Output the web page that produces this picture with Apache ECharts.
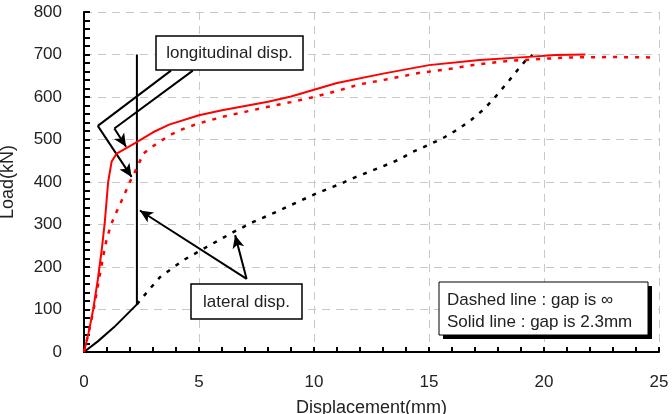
<!DOCTYPE html>
<html>
<head>
<meta charset="utf-8">
<script src="https://cdn.jsdelivr.net/npm/echarts@6/dist/echarts.min.js"></script>
<style>
  html, body { margin: 0; padding: 0; background: #fff; }
  #main { width: 672px; height: 414px; }
</style>
</head>
<body>
<div id="main"></div>
<script>
// load-displacement curves, values
// [displacement mm, load kN]
const longSolid = [
  [0, 0], [0.2, 45], [0.4, 100], [0.6, 170], [0.77, 240], [0.9, 303], [1.05, 400],
  [1.2, 448], [1.42, 467], [2.2, 491], [3, 517], [3.7, 535], [5, 557], [6, 569],
  [7, 579], [8, 589], [9, 601], [10, 617], [11, 633], [13, 655], [15, 675],
  [17.2, 687], [19.5, 695], [20.5, 699], [21.8, 700]
];
const longDashed = [
  [0, 0], [0.2, 45], [0.42, 100], [0.65, 170], [0.85, 230], [0.99, 267], [1.2, 303],
  [1.45, 334], [1.71, 365], [2.0, 401], [2.29, 432], [2.58, 467], [3.2, 492],
  [3.8, 512], [4.4, 527], [5, 538], [6, 553], [7, 565], [8, 577], [9, 588],
  [10, 600], [11, 614], [12, 630], [13.4, 644], [14.5, 656], [16, 667], [17, 676],
  [18.5, 685], [20, 690], [21.1, 693], [23, 694], [24.9, 693]
];
const latSolid = [
  [0, 0], [0.6, 25], [1.3, 58], [2.3, 112], [2.3, 700]
];
const latDashed = [
  [2.3, 112], [2.43, 121], [2.87, 149], [3.3, 176], [4.32, 216], [5.33, 247],
  [6.49, 282], [7.36, 306], [8.38, 330], [8.81, 341], [10.1, 373], [10.84, 389],
  [11.25, 398], [11.83, 412], [12.4, 424], [13.13, 440], [13.7, 453], [14.3, 471],
  [14.97, 487], [15.6, 503], [16.26, 524], [16.83, 546], [17.34, 569], [17.77, 593],
  [18.13, 616], [18.5, 640], [18.86, 664], [19.22, 687], [19.5, 699]
];

const xTicks = [0, 5, 10, 15, 20, 25];
const yTicks = [0, 100, 200, 300, 400, 500, 600, 700, 800];

// annotation arrows in data units, the last segment of each path gets the arrowhead
const arrowPaths = [
  [[3.78, 662], [0.6, 532], [2.07, 412]],
  [[4.73, 662], [1.32, 526], [1.83, 483]],
  [[7.07, 172], [2.43, 333]],
  [[7.07, 172], [6.57, 275]]
];

const font = 'Liberation Sans, Arial, sans-serif';
const txt = '#222';

const arrowLines = [];
arrowPaths.forEach(p => {
  for (let i = 0; i < p.length - 1; i++) {
    const last = i === p.length - 2;
    arrowLines.push([
      { coord: p[i], symbol: 'none' },
      { coord: p[i + 1], symbol: last ? 'arrow' : 'none' }
    ]);
  }
});

const myChart = echarts.init(document.getElementById('main'), null, { renderer: 'canvas' });

const option = {
  animation: false,
  backgroundColor: '#fff',
  grid: { left: 84, right: 13, top: 12, bottom: 62, containLabel: false, outerBoundsMode: 'none' },
  xAxis: {
    type: 'value',
    min: xTicks[0],
    max: xTicks[xTicks.length - 1],
    interval: 5,
    name: 'Displacement(mm)',
    nameLocation: 'middle',
    nameGap: 47,
    nameTextStyle: { fontFamily: font, fontSize: 18, color: txt },
    axisLine: { lineStyle: { color: '#000', width: 2 } },
    axisTick: { inside: true, length: 5, lineStyle: { color: '#000', width: 2 } },
    minorTick: { show: true, splitNumber: 5, length: 5, lineStyle: { color: '#000', width: 2 } },
    axisLabel: { margin: 22, fontFamily: font, fontSize: 17, color: txt },
    splitLine: { show: true, lineStyle: { color: '#c8c8c8', type: [8, 6], width: 1 } }
  },
  yAxis: {
    type: 'value',
    min: yTicks[0],
    max: yTicks[yTicks.length - 1],
    interval: 100,
    name: 'Load(kN)',
    nameLocation: 'middle',
    nameGap: 67,
    nameTextStyle: { fontFamily: font, fontSize: 18, color: txt },
    axisLine: { show: true, lineStyle: { color: '#000', width: 2 } },
    axisTick: { show: true, inside: true, length: 6, lineStyle: { color: '#000', width: 2 } },
    minorTick: { show: true, splitNumber: 5, length: 6, lineStyle: { color: '#000', width: 2 } },
    axisLabel: { margin: 22, fontFamily: font, fontSize: 17, color: txt },
    splitLine: { show: true, lineStyle: { color: '#c8c8c8', type: [8, 6], width: 1 } }
  },
  series: [
    {
      name: 'lateral solid', type: 'line', data: latSolid, showSymbol: false,
      lineStyle: { color: '#000', width: 2 }, z: 3
    },
    {
      name: 'lateral dashed', type: 'line', data: latDashed, showSymbol: false,
      lineStyle: { color: '#000', width: 2.5, type: [4, 7] }, z: 3
    },
    {
      name: 'longitudinal dashed', type: 'line', data: longDashed, showSymbol: false,
      lineStyle: { color: '#ff0000', width: 2.5, type: [4, 7] }, z: 4
    },
    {
      name: 'longitudinal solid', type: 'line', data: longSolid, showSymbol: false,
      lineStyle: { color: '#ff0000', width: 2 }, z: 5,
      markLine: {
        silent: true,
        symbolSize: [9, 13],
        label: { show: false },
        lineStyle: { color: '#000', width: 2, type: 'solid' },
        data: arrowLines
      }
    }
  ],
  graphic: [
    {
      type: 'rect', z: 100,
      shape: { x: 156, y: 36, width: 147, height: 34 },
      style: { fill: '#fff', stroke: '#000', lineWidth: 1.5 }
    },
    {
      type: 'text', z: 101, x: 229.5, y: 53,
      style: { text: 'longitudinal disp.', font: '17px ' + font, fill: txt, align: 'center', verticalAlign: 'middle' }
    },
    {
      type: 'rect', z: 100,
      shape: { x: 191, y: 284, width: 111, height: 35 },
      style: { fill: '#fff', stroke: '#000', lineWidth: 1.5 }
    },
    {
      type: 'text', z: 101, x: 246.5, y: 302,
      style: { text: 'lateral disp.', font: '17px ' + font, fill: txt, align: 'center', verticalAlign: 'middle' }
    },
    // legend box: black offset rect as the shadow, white box on top
    {
      type: 'rect', z: 100,
      shape: { x: 443, y: 286, width: 209, height: 53 },
      style: { fill: '#000' }
    },
    {
      type: 'rect', z: 101,
      shape: { x: 439, y: 282, width: 209, height: 53 },
      style: { fill: '#fff', stroke: '#000', lineWidth: 1 }
    },
    {
      type: 'text', z: 102, x: 447, y: 300,
      style: { text: 'Dashed line : gap is ∞', font: '17px ' + font, fill: txt, align: 'left', verticalAlign: 'middle' }
    },
    {
      type: 'text', z: 102, x: 447, y: 322,
      style: { text: 'Solid line : gap is 2.3mm', font: '17px ' + font, fill: txt, align: 'left', verticalAlign: 'middle' }
    }
  ]
};

myChart.setOption(option);
</script>
</body>
</html>
